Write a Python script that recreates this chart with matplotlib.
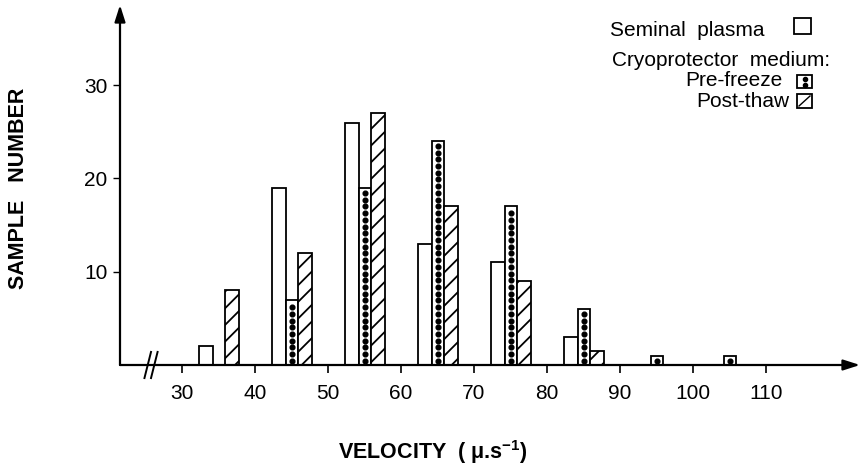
import numpy as np
import matplotlib
matplotlib.use("Agg")
import matplotlib.pyplot as plt
from matplotlib.patches import Rectangle
from matplotlib.lines import Line2D

plt.rcParams['font.family'] = ['Liberation Sans', 'DejaVu Sans']
plt.rcParams['mathtext.fontset'] = 'custom'
plt.rcParams['mathtext.bf'] = 'Liberation Sans:bold'
plt.rcParams['mathtext.rm'] = 'Liberation Sans'
plt.rcParams['mathtext.default'] = 'bf'
plt.rcParams['hatch.linewidth'] = 1.3

# velocity classes (lower edge of each 10-unit bin)
bins = [30, 40, 50, 60, 70, 80, 90, 100]
seminal = [2, 19, 26, 13, 11, 3, 0, 0]
prefreeze = [0, 7, 19, 24, 17, 6, 1, 1]
postthaw = [8, 12, 27, 17, 9, 1.5, 0, 0]
xticks = [30, 40, 50, 60, 70, 80, 90, 100, 110]
yticks = [10, 20, 30]

W, H = 863, 470
fig = plt.figure(figsize=(W / 100, H / 100), dpi=100)
ax = fig.add_axes([120 / W, 105 / H, 740 / W, 360 / H])

b = np.array(bins, dtype=float)
s = np.array(seminal, dtype=float)
p = np.array(prefreeze, dtype=float)
t = np.array(postthaw, dtype=float)

lw = 1.3
m = s > 0
ax.bar(b[m] + 3.3, s[m], width=2.0, facecolor='white', edgecolor='black', linewidth=lw)
m = p > 0
ax.bar(b[m] + 5.1, p[m], width=1.6, facecolor='white', edgecolor='black', linewidth=lw)
# dot column inside the pre-freeze bars
for x, h in zip(b[m] + 5.1, p[m]):
    yy = np.arange(0.45, h - 0.25, 0.72)
    ax.plot(np.full_like(yy, x), yy, 'o', color='black', markersize=3.4, linestyle='none')
m = t > 0
ax.bar(b[m] + 6.85, t[m], width=1.9, facecolor='white', edgecolor='black', linewidth=lw, hatch='//')

ax.set_xlim(21.5, 122.9)
ax.set_ylim(0, 38.6)
for sp in ax.spines.values():
    sp.set_visible(False)

arrow = dict(arrowstyle='-|>,head_length=1.0,head_width=0.32', lw=1.6, color='black',
             shrinkA=0, shrinkB=0)
ax.annotate('', xy=(1, 0), xytext=(0, 0), xycoords='axes fraction', arrowprops=arrow)
ax.annotate('', xy=(0, 1), xytext=(0, 0), xycoords='axes fraction', arrowprops=arrow)

# axis break marks
for xb in (25.3, 26.2):
    ax.plot([xb - 0.45, xb + 0.45], [-1.4, 1.4], color='black', lw=1.4, clip_on=False)

ax.set_xticks(xticks)
ax.set_xticklabels([str(v) for v in xticks])
ax.set_yticks(yticks)
ax.set_yticklabels([str(v) for v in yticks])
ax.tick_params(axis='x', direction='out', length=6, width=1.2, pad=8, labelsize=15)
ax.tick_params(axis='y', direction='out', length=5, width=1.0, pad=4, labelsize=15)

fig.text(433 / W, 1 - 452 / H, 'VELOCITY  ( μ.s$^{-1}$)', ha='center', va='center',
         fontsize=15.5, fontweight='bold')
fig.text(19 / W, 1 - 188 / H, 'SAMPLE   NUMBER', ha='center', va='center',
         rotation=90, fontsize=15.5, fontweight='bold')

# legend drawn by hand, as in the original
fs = 15
fig.text(610 / W, 1 - 36 / H, 'Seminal  plasma', ha='left', va='baseline', fontsize=fs)
fig.text(612 / W, 1 - 66 / H, 'Cryoprotector  medium:', ha='left', va='baseline', fontsize=fs)
fig.text(782 / W, 1 - 86 / H, 'Pre-freeze', ha='right', va='baseline', fontsize=fs)
fig.text(789 / W, 1 - 107 / H, 'Post-thaw', ha='right', va='baseline', fontsize=fs)

fig.add_artist(Rectangle((794 / W, 1 - 34 / H), 17 / W, 16 / H, transform=fig.transFigure,
                         facecolor='white', edgecolor='black', linewidth=1.3))
fig.add_artist(Rectangle((797 / W, 1 - 88 / H), 15 / W, 13 / H, transform=fig.transFigure,
                         facecolor='white', edgecolor='black', linewidth=1.3))
fig.add_artist(Line2D([804.5 / W, 804.5 / W], [1 - 79 / H, 1 - 84.5 / H], transform=fig.transFigure,
                      marker='o', markersize=3, linestyle='none', color='black'))
fig.add_artist(Rectangle((797 / W, 1 - 108 / H), 15 / W, 14 / H, transform=fig.transFigure,
                         facecolor='white', edgecolor='black', linewidth=1.3))
fig.add_artist(Line2D([799 / W, 810 / W], [1 - 106 / H, 1 - 96 / H], transform=fig.transFigure,
                      color='black', lw=1.0))

fig.savefig('out.png', dpi=100)
